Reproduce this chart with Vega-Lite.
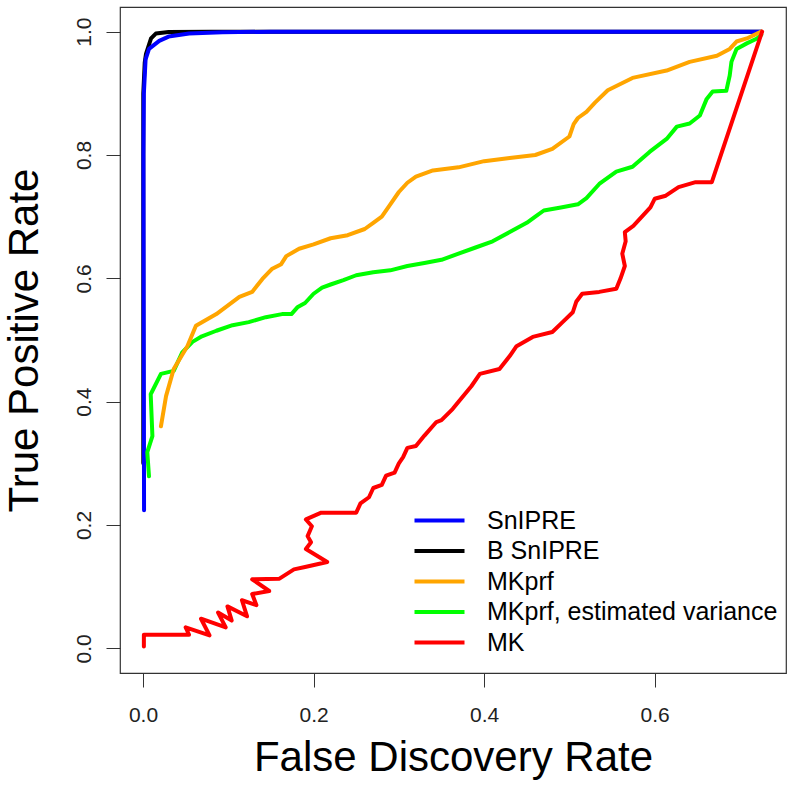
{
  "$schema": "https://vega.github.io/schema/vega-lite/v6.json",
  "width": 666,
  "height": 666,
  "autosize": "none",
  "padding": {"left": 120, "top": 7, "right": 8, "bottom": 115},
  "background": "white",
  "config": {
    "view": {"stroke": "#333", "strokeWidth": 1.2},
    "font": "Liberation Sans"
  },
  "data": {"values": [
    {"m":"B SnIPRE","i":1,"x":0.0003,"y":0.3},
    {"m":"B SnIPRE","i":2,"x":0.0003,"y":0.9},
    {"m":"B SnIPRE","i":3,"x":0.002,"y":0.95},
    {"m":"B SnIPRE","i":4,"x":0.0035,"y":0.964},
    {"m":"B SnIPRE","i":5,"x":0.0094,"y":0.989},
    {"m":"B SnIPRE","i":6,"x":0.015,"y":0.997},
    {"m":"B SnIPRE","i":7,"x":0.03,"y":0.9995},
    {"m":"B SnIPRE","i":8,"x":0.08,"y":1.0},
    {"m":"B SnIPRE","i":9,"x":0.725,"y":1.0},
    {"m":"SnIPRE","i":1,"x":0.0012,"y":0.224},
    {"m":"SnIPRE","i":2,"x":0.0008,"y":0.55},
    {"m":"SnIPRE","i":3,"x":0.0005,"y":0.8},
    {"m":"SnIPRE","i":4,"x":0.001,"y":0.9},
    {"m":"SnIPRE","i":5,"x":0.003,"y":0.955},
    {"m":"SnIPRE","i":6,"x":0.007,"y":0.972},
    {"m":"SnIPRE","i":7,"x":0.019,"y":0.985},
    {"m":"SnIPRE","i":8,"x":0.03,"y":0.992},
    {"m":"SnIPRE","i":9,"x":0.054,"y":0.997},
    {"m":"SnIPRE","i":10,"x":0.093,"y":0.999},
    {"m":"SnIPRE","i":11,"x":0.15,"y":1.0},
    {"m":"SnIPRE","i":12,"x":0.725,"y":1.0},
    {"m":"MKprf, estimated variance","i":1,"x":0.007,"y":0.279},
    {"m":"MKprf, estimated variance","i":2,"x":0.005,"y":0.318},
    {"m":"MKprf, estimated variance","i":3,"x":0.011,"y":0.344},
    {"m":"MKprf, estimated variance","i":4,"x":0.009,"y":0.412},
    {"m":"MKprf, estimated variance","i":5,"x":0.021,"y":0.445},
    {"m":"MKprf, estimated variance","i":6,"x":0.036,"y":0.45},
    {"m":"MKprf, estimated variance","i":7,"x":0.046,"y":0.48},
    {"m":"MKprf, estimated variance","i":8,"x":0.058,"y":0.497},
    {"m":"MKprf, estimated variance","i":9,"x":0.069,"y":0.506},
    {"m":"MKprf, estimated variance","i":10,"x":0.086,"y":0.515},
    {"m":"MKprf, estimated variance","i":11,"x":0.105,"y":0.524},
    {"m":"MKprf, estimated variance","i":12,"x":0.124,"y":0.529},
    {"m":"MKprf, estimated variance","i":13,"x":0.144,"y":0.537},
    {"m":"MKprf, estimated variance","i":14,"x":0.163,"y":0.542},
    {"m":"MKprf, estimated variance","i":15,"x":0.174,"y":0.542},
    {"m":"MKprf, estimated variance","i":16,"x":0.181,"y":0.553},
    {"m":"MKprf, estimated variance","i":17,"x":0.19,"y":0.56},
    {"m":"MKprf, estimated variance","i":18,"x":0.2,"y":0.575},
    {"m":"MKprf, estimated variance","i":19,"x":0.21,"y":0.585},
    {"m":"MKprf, estimated variance","i":20,"x":0.22,"y":0.59},
    {"m":"MKprf, estimated variance","i":21,"x":0.235,"y":0.597},
    {"m":"MKprf, estimated variance","i":22,"x":0.25,"y":0.605},
    {"m":"MKprf, estimated variance","i":23,"x":0.27,"y":0.61},
    {"m":"MKprf, estimated variance","i":24,"x":0.29,"y":0.613},
    {"m":"MKprf, estimated variance","i":25,"x":0.31,"y":0.62},
    {"m":"MKprf, estimated variance","i":26,"x":0.33,"y":0.625},
    {"m":"MKprf, estimated variance","i":27,"x":0.35,"y":0.63},
    {"m":"MKprf, estimated variance","i":28,"x":0.37,"y":0.64},
    {"m":"MKprf, estimated variance","i":29,"x":0.39,"y":0.65},
    {"m":"MKprf, estimated variance","i":30,"x":0.41,"y":0.66},
    {"m":"MKprf, estimated variance","i":31,"x":0.43,"y":0.675},
    {"m":"MKprf, estimated variance","i":32,"x":0.45,"y":0.69},
    {"m":"MKprf, estimated variance","i":33,"x":0.46,"y":0.7},
    {"m":"MKprf, estimated variance","i":34,"x":0.47,"y":0.71},
    {"m":"MKprf, estimated variance","i":35,"x":0.49,"y":0.715},
    {"m":"MKprf, estimated variance","i":36,"x":0.51,"y":0.72},
    {"m":"MKprf, estimated variance","i":37,"x":0.52,"y":0.73},
    {"m":"MKprf, estimated variance","i":38,"x":0.535,"y":0.753},
    {"m":"MKprf, estimated variance","i":39,"x":0.555,"y":0.773},
    {"m":"MKprf, estimated variance","i":40,"x":0.574,"y":0.781},
    {"m":"MKprf, estimated variance","i":41,"x":0.594,"y":0.805},
    {"m":"MKprf, estimated variance","i":42,"x":0.614,"y":0.826},
    {"m":"MKprf, estimated variance","i":43,"x":0.626,"y":0.846},
    {"m":"MKprf, estimated variance","i":44,"x":0.641,"y":0.851},
    {"m":"MKprf, estimated variance","i":45,"x":0.653,"y":0.864},
    {"m":"MKprf, estimated variance","i":46,"x":0.661,"y":0.891},
    {"m":"MKprf, estimated variance","i":47,"x":0.668,"y":0.903},
    {"m":"MKprf, estimated variance","i":48,"x":0.684,"y":0.904},
    {"m":"MKprf, estimated variance","i":49,"x":0.688,"y":0.929},
    {"m":"MKprf, estimated variance","i":50,"x":0.69,"y":0.951},
    {"m":"MKprf, estimated variance","i":51,"x":0.696,"y":0.972},
    {"m":"MKprf, estimated variance","i":52,"x":0.708,"y":0.981},
    {"m":"MKprf, estimated variance","i":53,"x":0.72,"y":0.989},
    {"m":"MKprf, estimated variance","i":54,"x":0.725,"y":0.995},
    {"m":"MKprf","i":1,"x":0.021,"y":0.36},
    {"m":"MKprf","i":2,"x":0.027,"y":0.409},
    {"m":"MKprf","i":3,"x":0.036,"y":0.453},
    {"m":"MKprf","i":4,"x":0.052,"y":0.49},
    {"m":"MKprf","i":5,"x":0.062,"y":0.523},
    {"m":"MKprf","i":6,"x":0.086,"y":0.542},
    {"m":"MKprf","i":7,"x":0.113,"y":0.57},
    {"m":"MKprf","i":8,"x":0.128,"y":0.578},
    {"m":"MKprf","i":9,"x":0.14,"y":0.599},
    {"m":"MKprf","i":10,"x":0.151,"y":0.615},
    {"m":"MKprf","i":11,"x":0.162,"y":0.623},
    {"m":"MKprf","i":12,"x":0.168,"y":0.636},
    {"m":"MKprf","i":13,"x":0.183,"y":0.648},
    {"m":"MKprf","i":14,"x":0.2,"y":0.655},
    {"m":"MKprf","i":15,"x":0.22,"y":0.665},
    {"m":"MKprf","i":16,"x":0.24,"y":0.67},
    {"m":"MKprf","i":17,"x":0.26,"y":0.68},
    {"m":"MKprf","i":18,"x":0.27,"y":0.69},
    {"m":"MKprf","i":19,"x":0.28,"y":0.7},
    {"m":"MKprf","i":20,"x":0.29,"y":0.72},
    {"m":"MKprf","i":21,"x":0.3,"y":0.74},
    {"m":"MKprf","i":22,"x":0.31,"y":0.755},
    {"m":"MKprf","i":23,"x":0.32,"y":0.765},
    {"m":"MKprf","i":24,"x":0.34,"y":0.775},
    {"m":"MKprf","i":25,"x":0.37,"y":0.78},
    {"m":"MKprf","i":26,"x":0.4,"y":0.79},
    {"m":"MKprf","i":27,"x":0.43,"y":0.795},
    {"m":"MKprf","i":28,"x":0.46,"y":0.8},
    {"m":"MKprf","i":29,"x":0.48,"y":0.81},
    {"m":"MKprf","i":30,"x":0.5,"y":0.83},
    {"m":"MKprf","i":31,"x":0.505,"y":0.85},
    {"m":"MKprf","i":32,"x":0.51,"y":0.86},
    {"m":"MKprf","i":33,"x":0.52,"y":0.87},
    {"m":"MKprf","i":34,"x":0.53,"y":0.885},
    {"m":"MKprf","i":35,"x":0.545,"y":0.905},
    {"m":"MKprf","i":36,"x":0.574,"y":0.925},
    {"m":"MKprf","i":37,"x":0.614,"y":0.937},
    {"m":"MKprf","i":38,"x":0.641,"y":0.951},
    {"m":"MKprf","i":39,"x":0.673,"y":0.961},
    {"m":"MKprf","i":40,"x":0.688,"y":0.972},
    {"m":"MKprf","i":41,"x":0.696,"y":0.984},
    {"m":"MKprf","i":42,"x":0.708,"y":0.989},
    {"m":"MKprf","i":43,"x":0.725,"y":1.0},
    {"m":"MK","i":1,"x":0.001,"y":0.003},
    {"m":"MK","i":2,"x":0.001,"y":0.022},
    {"m":"MK","i":3,"x":0.054,"y":0.022},
    {"m":"MK","i":4,"x":0.05,"y":0.034},
    {"m":"MK","i":5,"x":0.078,"y":0.021},
    {"m":"MK","i":6,"x":0.068,"y":0.048},
    {"m":"MK","i":7,"x":0.097,"y":0.034},
    {"m":"MK","i":8,"x":0.088,"y":0.058},
    {"m":"MK","i":9,"x":0.104,"y":0.045},
    {"m":"MK","i":10,"x":0.099,"y":0.068},
    {"m":"MK","i":11,"x":0.122,"y":0.052},
    {"m":"MK","i":12,"x":0.116,"y":0.078},
    {"m":"MK","i":13,"x":0.133,"y":0.07},
    {"m":"MK","i":14,"x":0.128,"y":0.088},
    {"m":"MK","i":15,"x":0.148,"y":0.093},
    {"m":"MK","i":16,"x":0.128,"y":0.112},
    {"m":"MK","i":17,"x":0.16,"y":0.113},
    {"m":"MK","i":18,"x":0.177,"y":0.128},
    {"m":"MK","i":19,"x":0.19,"y":0.132},
    {"m":"MK","i":20,"x":0.216,"y":0.14},
    {"m":"MK","i":21,"x":0.191,"y":0.161},
    {"m":"MK","i":22,"x":0.197,"y":0.172},
    {"m":"MK","i":23,"x":0.193,"y":0.182},
    {"m":"MK","i":24,"x":0.198,"y":0.198},
    {"m":"MK","i":25,"x":0.191,"y":0.209},
    {"m":"MK","i":26,"x":0.209,"y":0.22},
    {"m":"MK","i":27,"x":0.25,"y":0.22},
    {"m":"MK","i":28,"x":0.255,"y":0.235},
    {"m":"MK","i":29,"x":0.265,"y":0.245},
    {"m":"MK","i":30,"x":0.27,"y":0.26},
    {"m":"MK","i":31,"x":0.28,"y":0.265},
    {"m":"MK","i":32,"x":0.285,"y":0.28},
    {"m":"MK","i":33,"x":0.295,"y":0.285},
    {"m":"MK","i":34,"x":0.3,"y":0.3},
    {"m":"MK","i":35,"x":0.305,"y":0.31},
    {"m":"MK","i":36,"x":0.31,"y":0.325},
    {"m":"MK","i":37,"x":0.32,"y":0.328},
    {"m":"MK","i":38,"x":0.33,"y":0.345},
    {"m":"MK","i":39,"x":0.344,"y":0.367},
    {"m":"MK","i":40,"x":0.35,"y":0.37},
    {"m":"MK","i":41,"x":0.363,"y":0.388},
    {"m":"MK","i":42,"x":0.37,"y":0.4},
    {"m":"MK","i":43,"x":0.385,"y":0.425},
    {"m":"MK","i":44,"x":0.395,"y":0.445},
    {"m":"MK","i":45,"x":0.418,"y":0.453},
    {"m":"MK","i":46,"x":0.43,"y":0.474},
    {"m":"MK","i":47,"x":0.438,"y":0.49},
    {"m":"MK","i":48,"x":0.457,"y":0.505},
    {"m":"MK","i":49,"x":0.48,"y":0.513},
    {"m":"MK","i":50,"x":0.492,"y":0.529},
    {"m":"MK","i":51,"x":0.504,"y":0.545},
    {"m":"MK","i":52,"x":0.508,"y":0.562},
    {"m":"MK","i":53,"x":0.515,"y":0.575},
    {"m":"MK","i":54,"x":0.535,"y":0.578},
    {"m":"MK","i":55,"x":0.555,"y":0.583},
    {"m":"MK","i":56,"x":0.56,"y":0.6},
    {"m":"MK","i":57,"x":0.565,"y":0.62},
    {"m":"MK","i":58,"x":0.562,"y":0.64},
    {"m":"MK","i":59,"x":0.566,"y":0.66},
    {"m":"MK","i":60,"x":0.565,"y":0.675},
    {"m":"MK","i":61,"x":0.575,"y":0.685},
    {"m":"MK","i":62,"x":0.585,"y":0.7},
    {"m":"MK","i":63,"x":0.595,"y":0.715},
    {"m":"MK","i":64,"x":0.6,"y":0.729},
    {"m":"MK","i":65,"x":0.613,"y":0.734},
    {"m":"MK","i":66,"x":0.628,"y":0.748},
    {"m":"MK","i":67,"x":0.648,"y":0.756},
    {"m":"MK","i":68,"x":0.667,"y":0.756},
    {"m":"MK","i":69,"x":0.726,"y":1.0}
  ]},
  "mark": {"type": "line", "strokeWidth": 4, "strokeJoin": "round", "strokeCap": "round"},
  "encoding": {
    "x": {
      "field": "x", "type": "quantitative",
      "scale": {"domain": [-0.027, 0.754], "nice": false, "zero": false},
      "axis": {
        "values": [0, 0.2, 0.4, 0.6], "format": ".1f",
        "title": "False Discovery Rate",
        "domain": false, "grid": false,
        "tickSize": 14, "tickColor": "#333", "tickWidth": 1,
        "labelFontSize": 21, "labelColor": "#222", "labelPadding": 34, "labelBaseline": "alphabetic",
        "titleFontSize": 42, "titleFontWeight": "normal", "titleColor": "#000",
        "titleX": 333, "titleY": 97, "titleAlign": "center", "titleBaseline": "alphabetic"
      }
    },
    "y": {
      "field": "y", "type": "quantitative",
      "scale": {"domain": [-0.04, 1.04], "nice": false, "zero": false},
      "axis": {
        "values": [0, 0.2, 0.4, 0.6, 0.8, 1.0], "format": ".1f",
        "title": "True Positive Rate",
        "domain": false, "grid": false,
        "tickSize": 14, "tickColor": "#333", "tickWidth": 1,
        "labelFontSize": 21, "labelColor": "#222", "labelPadding": 16, "labelAngle": 270,
        "labelAlign": "center", "labelBaseline": "alphabetic",
        "titleFontSize": 42, "titleFontWeight": "normal", "titleColor": "#000",
        "titleAngle": 270, "titleX": -83, "titleY": 333, "titleAlign": "center", "titleBaseline": "alphabetic"
      }
    },
    "color": {
      "field": "m", "type": "nominal",
      "scale": {
        "domain": ["SnIPRE", "B SnIPRE", "MKprf", "MKprf, estimated variance", "MK"],
        "range": ["#0000FF", "#000000", "#FFA500", "#00FF00", "#FF0000"]
      },
      "legend": {
        "orient": "none", "legendX": 307, "legendY": 501,
        "title": null, "padding": 0,
        "symbolType": "M-5,0H5", "symbolSize": 100, "symbolStrokeWidth": 4,
        "labelFontSize": 25, "labelColor": "#000", "labelOffset": 35, "labelLimit": 500,
        "rowPadding": 4.5
      }
    },
    "order": {"field": "i", "type": "quantitative"}
  }
}
